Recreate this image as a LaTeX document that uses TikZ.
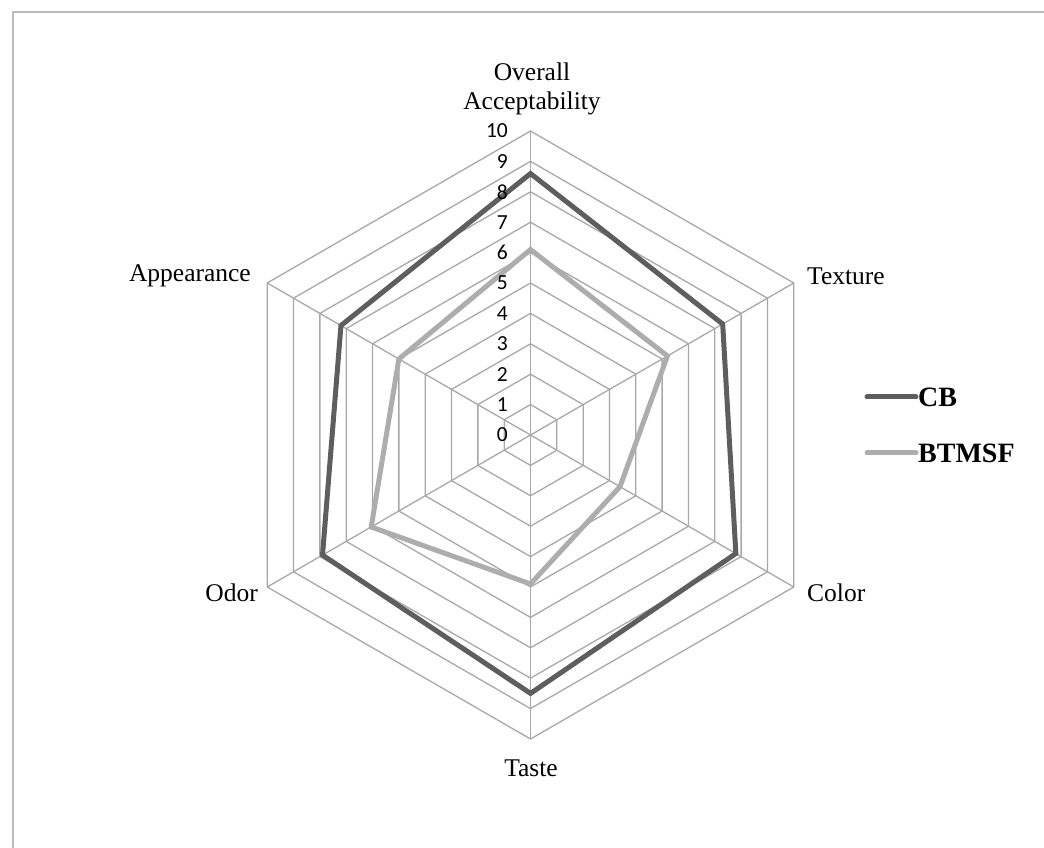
\documentclass[tikz,border=0pt]{standalone}
\usepackage{fontspec}
\usetikzlibrary{calc}
\setmainfont{Liberation Serif}
\newfontfamily\calib{Carlito}
\definecolor{gridgray}{HTML}{A8A8A8}
\definecolor{cbgray}{HTML}{5E5E5E}
\definecolor{btgray}{HTML}{ADADAD}
\definecolor{framegray}{HTML}{BBBBBB}
\begin{document}
\begin{tikzpicture}[x=1pt,y=1pt,
  gridline/.style={draw=gridgray, line width=1.3pt},
  cbline/.style={draw=cbgray, line width=5pt, line join=miter},
  btline/.style={draw=btgray, line width=5pt, line join=miter},
  legline/.style={line width=5pt, line cap=round},
  ticklbl/.style={font=\calib\fontsize{21.5}{21.5}\selectfont, anchor=east, inner sep=0pt},
  catlbl/.style={font=\fontsize{25.5}{29}\selectfont, inner sep=0pt, align=center},
  leglbl/.style={font=\bfseries\fontsize{28}{28}\selectfont, anchor=west, inner sep=0pt}]
\useasboundingbox (0,0) rectangle (1044,848);
\draw[framegray, line width=1.4pt] (13,-5) -- (13,836) -- (1050,836);
\coordinate (O) at (530.5,413);
\def\u{30.4}
% grid rings
\foreach \k in {1,...,10}{
  \draw[gridline] ($(O)+(90:\k*\u)$) -- ($(O)+(30:\k*\u)$) -- ($(O)+(-30:\k*\u)$)
    -- ($(O)+(-90:\k*\u)$) -- ($(O)+(-150:\k*\u)$) -- ($(O)+(150:\k*\u)$) -- cycle;
}
% spokes
\foreach \a/\n in {90/oa,30/tex,-30/col,-90/tas,-150/odo,150/app}{
  \coordinate (v\n) at ($(O)+(\a:10*\u)$);
  \draw[gridline] (O) -- (v\n);
}
% data coordinates
\foreach \a/\n/\c/\b in {90/oa/8.6/6.1, 30/tex/7.3/5.2, -30/col/7.8/3.4, -90/tas/8.5/4.9, -150/odo/7.9/6.05, 150/app/7.2/5.0}{
  \coordinate (cb\n) at ($(O)+(\a:\c*\u)$);
  \coordinate (bt\n) at ($(O)+(\a:\b*\u)$);
}
\draw[btline] (btoa) -- (bttex) -- (btcol) -- (bttas) -- (btodo) -- (btapp) -- cycle;
\draw[cbline] (cboa) -- (cbtex) -- (cbcol) -- (cbtas) -- (cbodo) -- (cbapp) -- cycle;
% tick labels
\foreach \k in {0,...,10}{
  \node[ticklbl] (t\k) at (508, 413+\k*\u) {\k};
}
% category labels
\node[catlbl] (lOA) at (532, 848-88.5) {Overall\\Acceptability};
\node[catlbl, anchor=west] (lTex) at (807, 848-276) {Texture};
\node[catlbl, anchor=west] (lCol) at (807, 848-593) {Color};
\node[catlbl] (lTas) at (531, 848-768) {Taste};
\node[catlbl, anchor=east] (lOdo) at (258, 848-593) {Odor};
\node[catlbl, anchor=east] (lApp) at (251, 848-276) {Appearance};
% legend
\coordinate (lg1a) at (867, 848-397);
\coordinate (lg1b) at (916, 848-397);
\coordinate (lg2a) at (867, 848-453);
\coordinate (lg2b) at (916, 848-453);
\draw[legline, cbgray] (lg1a) -- (lg1b);
\draw[legline, btgray] (lg2a) -- (lg2b);
\node[leglbl] (legCB) at (918, 848-397) {CB};
\node[leglbl] (legBT) at (918, 848-453) {BTMSF};
\end{tikzpicture}
\end{document}
